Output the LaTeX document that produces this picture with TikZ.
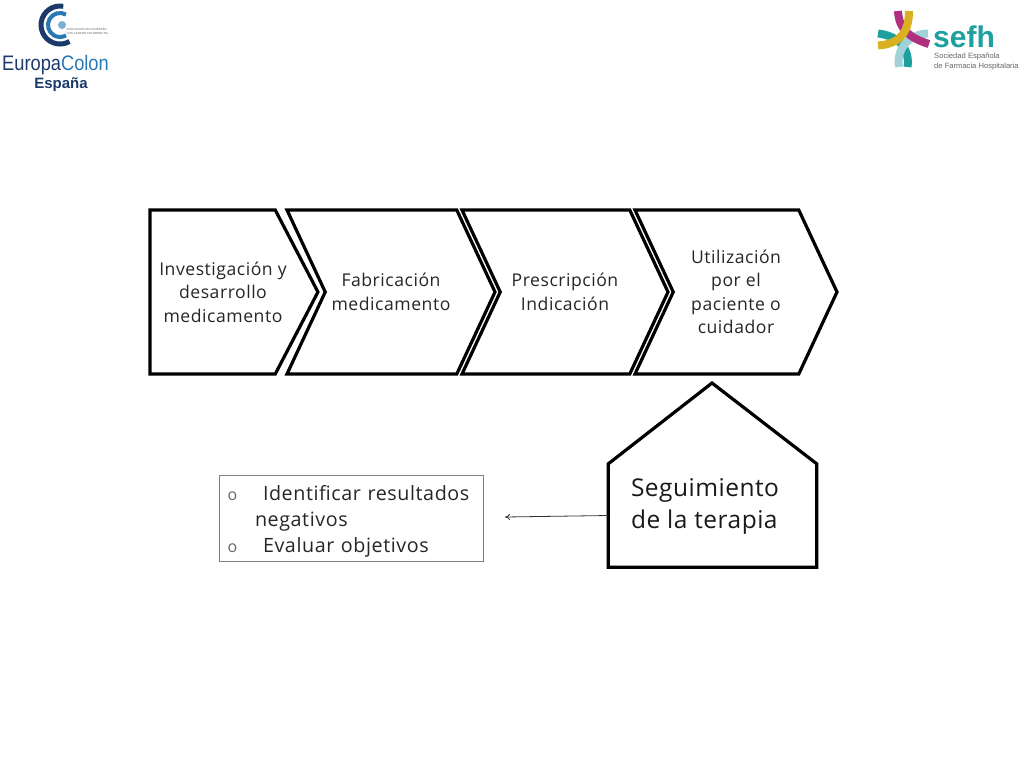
\documentclass[tikz,border=0pt]{standalone}
\usepackage{fontspec}
\setmainfont{Open Sans}
\newfontfamily\logofont{Liberation Sans}
\usepackage{xcolor}
\definecolor{navy}{RGB}{27,58,107}
\definecolor{colonblue}{RGB}{40,120,180}
\definecolor{sefhteal}{RGB}{30,160,158}
\definecolor{sefhlight}{RGB}{160,210,215}
\definecolor{sefhpink}{RGB}{176,48,128}
\definecolor{sefhgold}{RGB}{216,176,32}
\usetikzlibrary{shapes.symbols, shapes.arrows, arrows.meta, positioning, calc}

\begin{document}
\begin{tikzpicture}[
    x=1pt, y=-1pt,
    chevrontext/.style={align=center, inner sep=0pt, text=black!85, font=\fontsize{17.6}{23.5}\selectfont\addfontfeatures{LetterSpace=3}},
    chevron/.style={signal, signal to=east, signal from=west, signal pointer angle=130, draw=black, line width=3.2pt, fill=white, minimum height=164pt, chevrontext},
    housebody/.style={rectangle, minimum width=208pt, minimum height=103pt, inner sep=0pt, align=left, text=black!90, font=\fontsize{24.5}{32}\selectfont\addfontfeatures{LetterSpace=2}},
    notebox/.style={rectangle, draw=black!50, line width=1pt, fill=white, minimum width=264pt, minimum height=86pt, text width=250pt, inner sep=0pt, align=left, text=black!85, font=\fontsize{19.7}{26}\selectfont\addfontfeatures{LetterSpace=3}},
    arrow/.style={-{To[length=5pt,width=6pt]}, line width=0.8pt, black!80},
    ribbon/.style={line width=8pt}
]
\useasboundingbox (0,0) rectangle (1024,768);

% process chain
\node[chevron, signal from=nowhere, signal pointer angle=125, minimum width=168pt] (invest) at (212.6,292) {};
\node[chevrontext] (investtext) at (223,292) {Investigación y\\desarrollo\\medicamento};
\node[chevron, minimum width=208pt] (fabric) at (391,292) {Fabricación\\medicamento};
\node[chevron, minimum width=206pt] (prescr) at (565,292) {Prescripción\\Indicación};
\node[chevron, minimum width=202pt] (util) at (736,292) {Utilización\\por el\\paciente o\\cuidador};

% follow-up
\node[housebody] (seguim) at (712.5,515.5) {\hspace*{-15pt}Seguimiento\\\hspace*{-15pt}de la terapia\\[-8pt]\mbox{}};
\draw[line width=3.2pt, line join=miter] (seguim.south west) -- (seguim.north west) -- (712,383) -- (seguim.north east) -- (seguim.south east) -- cycle;

\node[notebox] (notes) at (351,518) {\mbox{}\\[-4pt]\hspace*{1pt}\makebox[11pt]{\fontsize{16}{16}\selectfont\color{black!60}o}\hspace*{25pt}Identificar resultados\\\hspace*{29pt}negativos\\\hspace*{1pt}\makebox[11pt]{\fontsize{16}{16}\selectfont\color{black!60}o}\hspace*{25pt}Evaluar objetivos};
\coordinate (notesend) at (505,517);
\draw[arrow] (seguim.west) -- (notesend);

% logo left
\draw[navy, line width=5pt] (63.3,6.3) arc[start angle=-80, end angle=-300, radius=19];
\draw[colonblue, line width=4pt] (66,14.6) arc[start angle=-60, end angle=-300, radius=12];
\fill[colonblue!60] (62,25) circle (4);
\node[font=\logofont\fontsize{2.9}{3.8}\selectfont, text=black!60, align=left, inner sep=0pt] (asoc) at (87.5,31) {ASOCIACIÓN DE PACIENTES\\CON CÁNCER COLORRECTAL};
\node[font=\logofont\fontsize{21}{25}\selectfont, inner sep=0pt] (euro) at (55.5,65) {\scalebox{0.87}[1]{\textcolor{navy}{Europa}\textcolor{colonblue}{Colon}}};
\node[font=\logofont\bfseries\fontsize{15}{20}\selectfont, text=navy, inner sep=0pt] (espana) at (61,85) {España};

% logo right
\draw[sefhteal, ribbon] (878,33.5) .. controls (900,36) and (910,50) .. (907.5,67);
\draw[sefhlight, ribbon] (928,33.5) .. controls (908,34) and (896,50) .. (899,67);
\draw[sefhpink, ribbon] (898,11) .. controls (899,30) and (910,38) .. (929,44);
\draw[sefhgold, ribbon] (909,11) .. controls (909,32) and (900,44) .. (878,45.5);
\node[font=\logofont\bfseries\fontsize{30}{30}\selectfont, text=sefhteal, inner sep=0pt, anchor=west] (sefh) at (933,37) {sefh};
\node[font=\logofont\fontsize{7.6}{9.5}\selectfont, text=black!60, inner sep=0pt, align=left, anchor=north west] (socied) at (934,53) {Sociedad Española\\de Farmacia Hospitalaria};
\end{tikzpicture}
\end{document}
